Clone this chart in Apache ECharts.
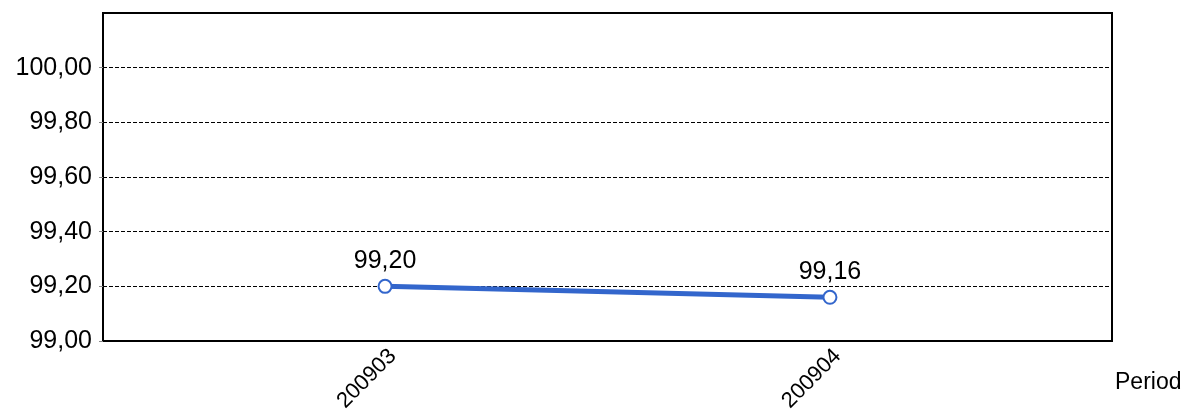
<!DOCTYPE html>
<html>
<head>
<meta charset="utf-8">
<script src="https://cdn.jsdelivr.net/npm/echarts@6/dist/echarts.min.js"></script>
<style>html,body{margin:0;padding:0;background:#fff}#c{width:1186px;height:415px}</style>
</head>
<body>
<div id="c"></div>
<script>
const categories = ['200903', '200904'];
const values = [99.20, 99.16];
const yTicks = [99.0, 99.2, 99.4, 99.6, 99.8, 100.0];
const xName = 'Period';

const fmt = v => Number(v).toFixed(2).replace('.', ',');
const FONT = 'Liberation Sans, Arial, sans-serif';
const chart = echarts.init(document.getElementById('c'), null, {renderer: 'canvas'});
chart.setOption({
  animation: false,
  backgroundColor: '#fff',
  grid: {left: 103, top: 13, right: 74, bottom: 74, show: true, borderColor: '#000', borderWidth: 2, containLabel: false},
  xAxis: {
    type: 'value', min: -0.634, max: 1.634,
    axisLine: {show: true, onZero: false, lineStyle: {color: '#000', width: 2}},
    axisTick: {show: false},
    splitLine: {show: false},
    axisLabel: {customValues: categories.map((c, i) => i), rotate: 45, margin: 4, verticalAlign: 'top', color: '#000', fontSize: 22, fontFamily: FONT,
      formatter: v => categories[Math.round(v)]}
  },
  yAxis: {
    type: 'value', min: 99, max: 100.2, interval: 0.2,
    axisLine: {show: true, onZero: false, lineStyle: {color: '#000', width: 2}},
    axisTick: {show: true, customValues: yTicks, length: 4, lineStyle: {color: '#888'}},
    splitLine: {show: true, lineStyle: {color: '#000', width: 1, type: [4, 2]}},
    axisLabel: {customValues: yTicks, margin: 11, color: '#000', fontSize: 25, fontFamily: FONT, formatter: v => fmt(v)}
  },
  graphic: [{type: 'text', left: 1115, top: 371, style: {text: xName, fontSize: 23, fontFamily: FONT, fill: '#000'}}],
  series: [{
    type: 'line',
    data: values.map((v, i) => [i, v]),
    lineStyle: {color: '#3366CC', width: 5},
    itemStyle: {color: '#3366CC', borderWidth: 2.5},
    symbol: 'emptyCircle', symbolSize: 13,
    label: {show: true, position: 'top', distance: 5, color: '#000', fontSize: 25, fontFamily: FONT, formatter: p => fmt(p.value[1])}
  }]
});
</script>
</body>
</html>
